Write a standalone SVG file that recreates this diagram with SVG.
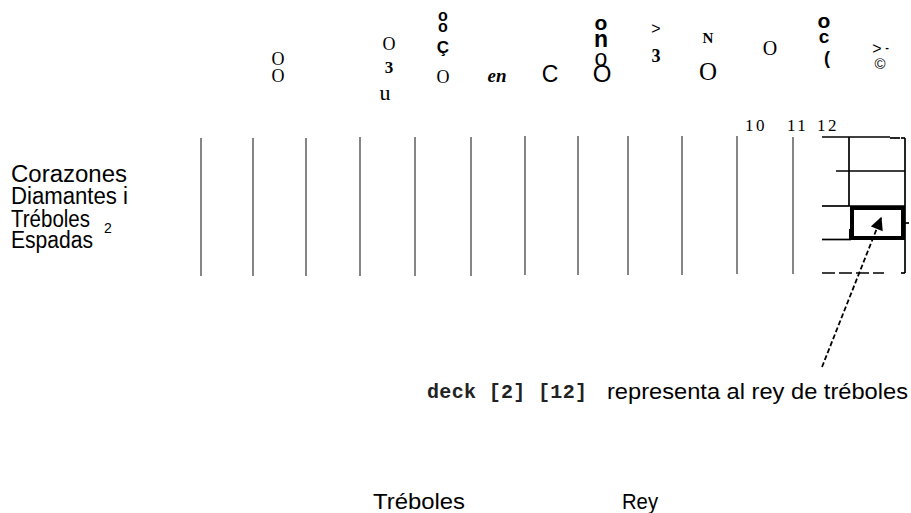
<svg xmlns="http://www.w3.org/2000/svg" width="911" height="513" viewBox="0 0 911 513">
<style>
.sans{font-family:"Liberation Sans",Arial,sans-serif;fill:#000}
.serif{font-family:"Liberation Serif","Times New Roman",serif;fill:#000}
.mono{font-family:"Liberation Mono","Courier New",monospace;font-weight:bold;fill:#222}
.b{font-weight:bold}
.col{stroke:#444;stroke-width:1.3}
.grid{stroke:#000;stroke-width:1.7;fill:none}
.thick{stroke:#000;stroke-width:4;fill:none}
.mid{text-anchor:middle}
</style>
<defs>
<clipPath id="cut1"><rect x="755" y="74" width="30" height="5"/></clipPath>
<clipPath id="cut2"><rect x="810" y="79" width="30" height="5"/></clipPath>
<marker id="ah" viewBox="0 0 10 10" refX="9" refY="5" markerWidth="15" markerHeight="13" markerUnits="userSpaceOnUse" orient="auto"><path d="M0,0 L10,5 L0,10 z" fill="#000"/></marker>
</defs>
<rect width="911" height="513" fill="#fff"/>

<g id="top-glyphs">
<text class="serif mid" font-size="18"><tspan x="278" y="65">O</tspan><tspan x="278" y="82">O</tspan></text>
<text class="serif mid" font-size="18"><tspan x="389" y="50">O</tspan><tspan x="389" y="73" font-weight="bold" font-size="17">3</tspan><tspan x="385" y="100" font-size="22">u</tspan></text>
<text class="sans b mid" font-size="16"><tspan x="443" y="21">o</tspan><tspan x="443" y="32">o</tspan><tspan x="443" y="53" font-size="17">Ç</tspan><tspan x="443" y="83" font-family="Liberation Serif, serif" font-weight="normal" font-size="18">O</tspan></text>
<text class="serif b mid" x="497" y="82" font-size="19" font-style="italic">en</text>
<text class="sans mid" x="550" y="82" font-size="23">C</text>
<text class="sans mid" font-size="21"><tspan x="601" y="30" font-weight="bold">o</tspan><tspan x="601" y="47" font-size="23" font-weight="bold">n</tspan><tspan x="601" y="66" font-size="23">o</tspan><tspan x="602" y="82" font-size="24">O</tspan></text>
<text class="sans mid" font-size="16"><tspan x="656" y="34">&gt;</tspan><tspan x="656" y="62" font-family="Liberation Serif, serif" font-weight="bold" font-size="18">3</tspan></text>
<text class="serif mid" font-size="15"><tspan x="708" y="43" font-weight="bold">N</tspan><tspan x="708" y="80" font-size="25">O</tspan></text>
<text class="serif mid" x="770" y="55" font-size="20">O</text>
<text class="serif mid" x="768" y="90" font-size="16" clip-path="url(#cut1)">o</text>
<text class="sans b mid" font-size="21"><tspan x="824" y="28">o</tspan><tspan x="824" y="43" font-size="19">c</tspan><tspan x="827" y="64" font-size="18">(</tspan></text>
<text class="sans b mid" x="823" y="97" font-size="18" clip-path="url(#cut2)">D</text>
<text class="sans mid" font-size="16"><tspan x="877" y="54">&gt;</tspan><tspan x="887" y="51" font-size="11" font-weight="bold">-</tspan><tspan x="880" y="69" font-size="15">©</tspan></text>
</g>

<g id="column-numbers">
<text class="serif" x="745" y="131" font-size="17" letter-spacing="2.5">10</text>
<text class="serif" x="787" y="131" font-size="17" letter-spacing="2.5">11</text>
<text class="serif" x="817" y="131" font-size="17" letter-spacing="2.5">12</text>
</g>

<g id="row-labels">
<text class="sans" x="11" y="182" font-size="23" textLength="116" lengthAdjust="spacingAndGlyphs">Corazones</text>
<text class="sans" x="11" y="204" font-size="23" textLength="117" lengthAdjust="spacingAndGlyphs">Diamantes i</text>
<text class="sans" x="11" y="227" font-size="23" textLength="79" lengthAdjust="spacingAndGlyphs">Tréboles</text>
<text class="sans" x="104" y="233" font-size="14">2</text>
<text class="sans" x="11" y="248" font-size="23" textLength="82" lengthAdjust="spacingAndGlyphs">Espadas</text>
</g>

<g id="columns">
<line class="col" x1="201" y1="138" x2="201" y2="276"/>
<line class="col" x1="253" y1="138" x2="253" y2="276"/>
<line class="col" x1="306" y1="138" x2="306" y2="276"/>
<line class="col" x1="360" y1="137" x2="360" y2="276"/>
<line class="col" x1="415" y1="137" x2="415" y2="276"/>
<line class="col" x1="471" y1="137" x2="471" y2="276"/>
<line class="col" x1="525" y1="136" x2="525" y2="275"/>
<line class="col" x1="578" y1="136" x2="578" y2="275"/>
<line class="col" x1="628" y1="136" x2="628" y2="275"/>
<line class="col" x1="682" y1="136" x2="682" y2="275"/>
<line class="col" x1="737" y1="136" x2="737" y2="274"/>
<line class="col" x1="793" y1="137" x2="793" y2="274"/>
</g>

<g id="grid-corner">
<line class="grid" x1="822" y1="137" x2="890" y2="137"/>
<line class="grid" x1="890" y1="138" x2="900" y2="138" stroke-width="2.5"/>
<line class="grid" x1="905" y1="138" x2="905" y2="273"/>
<line class="grid" x1="901" y1="138" x2="905" y2="138"/>
<line class="grid" x1="901" y1="273" x2="905" y2="273"/>
<line class="grid" x1="905" y1="223" x2="909" y2="223"/>
<line class="grid" x1="849" y1="137" x2="849" y2="206"/>
<line class="grid" x1="836" y1="171" x2="905" y2="171"/>
<line class="grid" x1="822" y1="206" x2="849" y2="206"/>
<line class="grid" x1="849" y1="206" x2="905" y2="206" stroke-width="2.5"/>
<rect class="thick" x="852" y="208" width="51" height="30"/>
<rect x="849" y="229" width="5" height="11" fill="#000"/>
<line class="grid" x1="822" y1="239.5" x2="851" y2="239.5"/>
<line class="grid" x1="822" y1="273" x2="884" y2="273" stroke-dasharray="13,4"/>
</g>

<g id="connectors">
<line x1="822" y1="367" x2="881" y2="218" stroke="#000" stroke-width="1.8" stroke-dasharray="5,2.5" marker-end="url(#ah)"/>
</g>

<g id="caption">
<text class="mono" x="427" y="398" font-size="20" textLength="160" lengthAdjust="spacing">deck [2] [12]</text>
<text class="sans" x="607" y="399" font-size="22" textLength="301" lengthAdjust="spacingAndGlyphs">representa al rey de tréboles</text>
</g>

<g id="bottom-labels">
<text class="sans" x="373" y="509" font-size="22" textLength="92" lengthAdjust="spacingAndGlyphs">Tréboles</text>
<text class="sans" x="622" y="509" font-size="22" textLength="36" lengthAdjust="spacingAndGlyphs">Rey</text>
</g>
</svg>
